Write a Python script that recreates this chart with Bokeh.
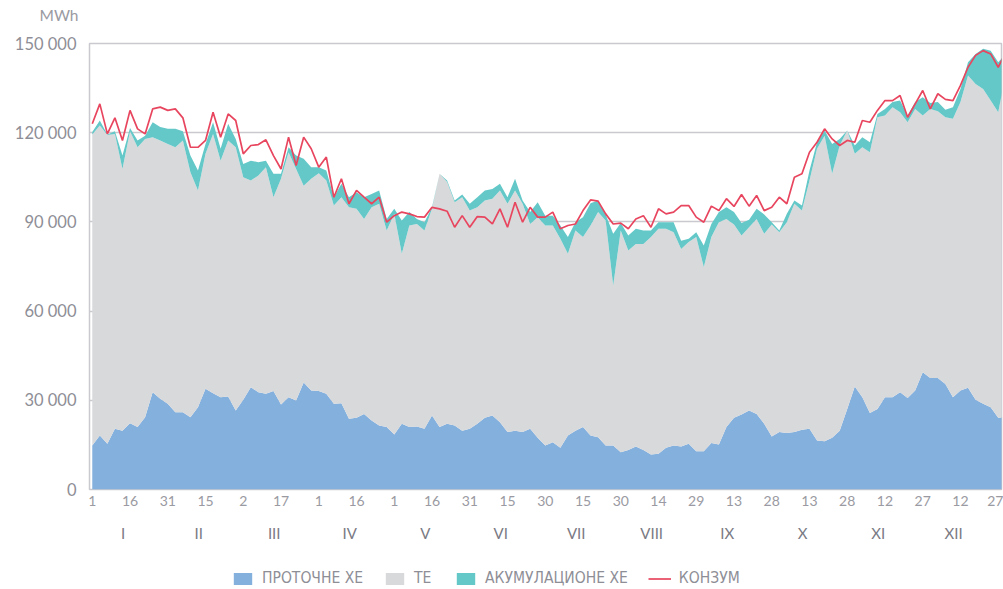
from bokeh.plotting import figure
from bokeh.layouts import column
from bokeh.models import (ColumnDataSource, FixedTicker, LinearAxis, Legend,
                          LegendItem, Title, Range1d)
from bokeh.embed import file_html
from bokeh.resources import INLINE

# day index within the year (0 = 1 January), every third day
days = list(range(0, 364, 3))

protocne_he = [
    14800, 18200, 15400, 20400, 19800, 22300, 21000, 24300, 32700, 30500,
    28800, 26000, 26000, 24300, 27700, 33900, 32400, 31000, 31300, 26600,
    30200, 34400, 32700, 32200, 33100, 28600, 31000, 29900, 36000, 33300,
    33100, 32200, 28800, 29000, 23800, 24100, 25400, 23200, 21500, 21000,
    18500, 22100, 21000, 21200, 20400, 24900, 21000, 22100, 21500, 19800,
    20400, 22100, 24100, 24900, 22600, 19300, 19800, 19300, 20400, 17400,
    14800, 15900, 14000, 18200, 19800, 21000, 18200, 17600, 14800, 14800,
    12500, 13300, 14500, 13300, 11800, 12000, 14000, 14800, 14500, 15400,
    12900, 12900, 15600, 15100, 21000, 24100, 25200, 26600, 25400, 22100,
    17800, 19300, 19000, 19300, 20100, 20400, 16500, 16200, 17400, 19800,
    27100, 34600, 31000, 25700, 27100, 31000, 31000, 32700, 30800, 33300,
    39400, 37500, 37500, 35500, 31000, 33300, 34200, 30200, 28800, 27700,
    24100, 24300]

te = [
    104600, 104200, 103800, 99200, 88000, 98200, 94100, 93600, 85800, 86900,
    87400, 89100, 91400, 82400, 72900, 79000, 87200, 79600, 86100, 88500,
    74800, 69500, 72900, 76200, 65200, 75900, 82400, 77900, 66200, 71200,
    73300, 71700, 66700, 69300, 71100, 70300, 65600, 71700, 74600, 66100,
    74200, 57200, 67800, 68100, 66700, 69500, 85200, 81300, 75100, 78500,
    73400, 72800, 73100, 72900, 78000, 76800, 80800, 76800, 68900, 74200,
    74000, 72900, 70300, 61100, 67300, 63900, 70600, 75700, 75700, 53800,
    74600, 67100, 68100, 69300, 73100, 75700, 73700, 71700, 66400, 67800,
    72000, 61900, 69300, 74800, 70000, 65000, 60200, 61600, 65600, 63900,
    71300, 67200, 70900, 76800, 73700, 83500, 98100, 102800, 88800, 95900,
    93600, 78300, 84100, 87700, 98100, 94800, 97600, 94200, 92700, 94700,
    86400, 90500, 89700, 89700, 93700, 97000, 105000, 106200, 105900, 103100,
    102800, 115500]

akumulacione_he = [
    800, 1700, 200, 900, 4500, 1100, 2300, 1100, 5000, 4500,
    5100, 6200, 3100, 5600, 6700, 3300, 3900, 4000, 5600, 2800,
    4500, 6700, 4500, 2200, 7900, 1700, 1700, 4500, 9000, 3900,
    2000, 3400, 2800, 4500, 3400, 5600, 7300, 4500, 4500, 3900,
    1700, 11200, 4500, 1700, 2800, 500, 0, 500, 600, 900,
    2300, 3400, 3400, 3300, 2200, 2200, 3900, 1100, 4000, 5000,
    3300, 3300, 4500, 5600, 2800, 6700, 7500, 3900, 2000, 17400,
    2500, 5000, 5100, 4500, 2200, 2200, 2200, 3400, 2800, 1100,
    1600, 7300, 4400, 3400, 3900, 4200, 4200, 2500, 3400, 6500,
    800, 600, 2800, 1100, 1700, 3400, 2200, 1700, 10000, 2200,
    0, 2800, 3400, 3400, 1100, 2200, 1700, 3900, 2300, 2300,
    6100, 2000, 3100, 2500, 3900, 4400, 4500, 10100, 13500, 16800,
    16800, 6700]

konzum = [
    123000, 129700, 119600, 125000, 117400, 127500, 121300, 119600, 128000, 128600,
    127500, 128000, 125000, 115100, 115100, 117400, 126900, 118500, 126300, 124100,
    112900, 115700, 116000, 117600, 112300, 107800, 118500, 109000, 118500, 114600,
    108400, 111800, 98300, 104500, 96100, 100600, 98300, 96100, 98300, 89900,
    92100, 93300, 92700, 91800, 91600, 94900, 94400, 93600, 88200, 92100,
    88200, 91800, 91600, 89300, 94400, 88200, 96600, 89900, 94900, 91600,
    91600, 93300, 87700, 88800, 89300, 93800, 97400, 97000, 92700, 89300,
    89600, 87700, 91000, 92100, 88200, 94400, 92700, 93300, 95500, 95500,
    91600, 89900, 95300, 93800, 97800, 95200, 99200, 95300, 98900, 93800,
    94900, 98300, 96100, 105000, 106200, 113400, 116800, 121300, 117900, 115700,
    117400, 116800, 124100, 123500, 127500, 130800, 130800, 132500, 125200, 129700,
    134200, 128000, 133100, 131200, 130800, 135900, 142000, 146000, 147600, 146500,
    142000, 147100]

day_labels = ["1", "16", "31", "15", "2", "17", "1", "16", "1", "16", "31", "15",
              "30", "15", "30", "14", "29", "13", "28", "13", "28", "12", "27",
              "12", "27"]
month_labels = ["I", "II", "III", "IV", "V", "VI", "VII", "VIII", "IX", "X",
                "XI", "XII"]
y_ticks = [0, 30000, 60000, 90000, 120000, 150000]
series_names = ["ПРОТОЧНЕ ХЕ", "ТЕ", "АКУМУЛАЦИОНЕ ХЕ", "КОНЗУМ"]
unit_label = "MWh"

BLUE = "#84b0de"
GRAY = "#d8d9db"
TEAL = "#64c8c8"
RED = "#e8465f"
FONT = "Lato"
LEGEND_FONT = "DejaVu Sans Condensed, Roboto Condensed, Roboto"

src = ColumnDataSource(dict(day=days, pro=protocne_he, te=te,
                            ak=akumulacione_he, kon=konzum))

p = figure(width=1003, height=567, output_backend="svg", toolbar_location=None,
           x_range=Range1d(-1.1, 361.3), y_range=Range1d(0, 150000),
           min_border_left=89, min_border_right=2, min_border_top=43,
           min_border_bottom=78)
p.outline_line_color = "#c9c9cf"
p.outline_line_width = 1.5
p.xgrid.visible = False
p.ygrid.ticker = FixedTicker(ticks=y_ticks)
p.ygrid.grid_line_color = "#c9c9cf"
p.ygrid.grid_line_width = 1.5

areas = p.varea_stack(["pro", "te", "ak"], x="day", source=src,
                      color=[BLUE, GRAY, TEAL])
line = p.line("day", "kon", source=src, color=RED, line_width=1.7)

# y axis
ya = p.yaxis[0]
ya.ticker = FixedTicker(ticks=y_ticks)
ya.major_label_overrides = {t: ("0" if t == 0 else f"{t // 1000} 000") for t in y_ticks}
ya.axis_line_color = None
ya.major_tick_line_color = None
ya.minor_tick_line_color = None
ya.major_tick_out = 0
ya.major_tick_in = 0
ya.major_label_standoff = 13
ya.major_label_text_font = FONT
ya.major_label_text_font_size = "16.5px"
ya.major_label_text_color = "#8e8e96"

# day axis
day_ticks = [15 * i for i in range(len(day_labels))]
xa = p.xaxis[0]
xa.ticker = FixedTicker(ticks=day_ticks)
xa.major_label_overrides = {t: l for t, l in zip(day_ticks, day_labels)}
xa.axis_line_color = None
xa.major_tick_line_color = None
xa.minor_tick_line_color = None
xa.major_tick_out = 0
xa.major_tick_in = 0
xa.major_label_standoff = 6
xa.major_label_text_font = FONT
xa.major_label_text_font_size = "14px"
xa.major_label_text_color = "#9a9aa2"

# month axis
month_ticks = [12.3 + 30 * i for i in range(len(month_labels))]
ma = LinearAxis(ticker=FixedTicker(ticks=month_ticks),
                major_label_overrides={t: l for t, l in zip(month_ticks, month_labels)})
ma.axis_line_color = None
ma.major_tick_line_color = None
ma.minor_tick_line_color = None
ma.major_tick_out = 0
ma.major_tick_in = 0
ma.major_label_standoff = 15
ma.major_label_text_font = FONT
ma.major_label_text_font_size = "15px"
ma.major_label_text_color = "#7a7a84"
p.add_layout(ma, "below")

# unit label above the y axis (a blank spacer sits between it and the frame)
p.add_layout(Title(text=" ", standoff=0, text_font=FONT,
                   text_font_size="15px"), "above")
p.add_layout(Title(text=unit_label, align="left", offset=-50, standoff=0,
                   text_font=FONT, text_font_size="15.5px",
                   text_font_style="normal", text_color="#9a9aa2"), "above")

# legend strip below the chart (legend glyphs kept outside the strip's ranges)
lg = figure(width=1003, height=22, output_backend="svg", toolbar_location=None,
            x_range=Range1d(0, 1), y_range=Range1d(0, 1),
            x_axis_location=None, y_axis_location=None, min_border=0)
lg.outline_line_color = None
lg.grid.visible = False
g_blue = lg.varea(x=[5, 6], y1=[5, 5], y2=[6, 6], color=BLUE)
g_gray = lg.varea(x=[5, 6], y1=[5, 5], y2=[6, 6], color=GRAY)
g_teal = lg.varea(x=[5, 6], y1=[5, 5], y2=[6, 6], color=TEAL)
g_red = lg.line(x=[5, 6], y=[5, 5], color=RED, line_width=1.7)

legend = Legend(items=[LegendItem(label=series_names[0], renderers=[g_blue]),
                       LegendItem(label=series_names[1], renderers=[g_gray]),
                       LegendItem(label=series_names[2], renderers=[g_teal]),
                       LegendItem(label=series_names[3], renderers=[g_red])],
                orientation="horizontal", location=(142, 1),
                border_line_color=None, background_fill_alpha=0, padding=0,
                margin=0, spacing=20, glyph_width=23, glyph_height=15,
                label_standoff=8, label_text_font=LEGEND_FONT,
                label_text_font_size="15.5px", label_text_color="#8e8e96",
                label_height=20)
lg.add_layout(legend)

page = column(p, lg, spacing=0)
open("out.html", "w").write(file_html(page, INLINE))
